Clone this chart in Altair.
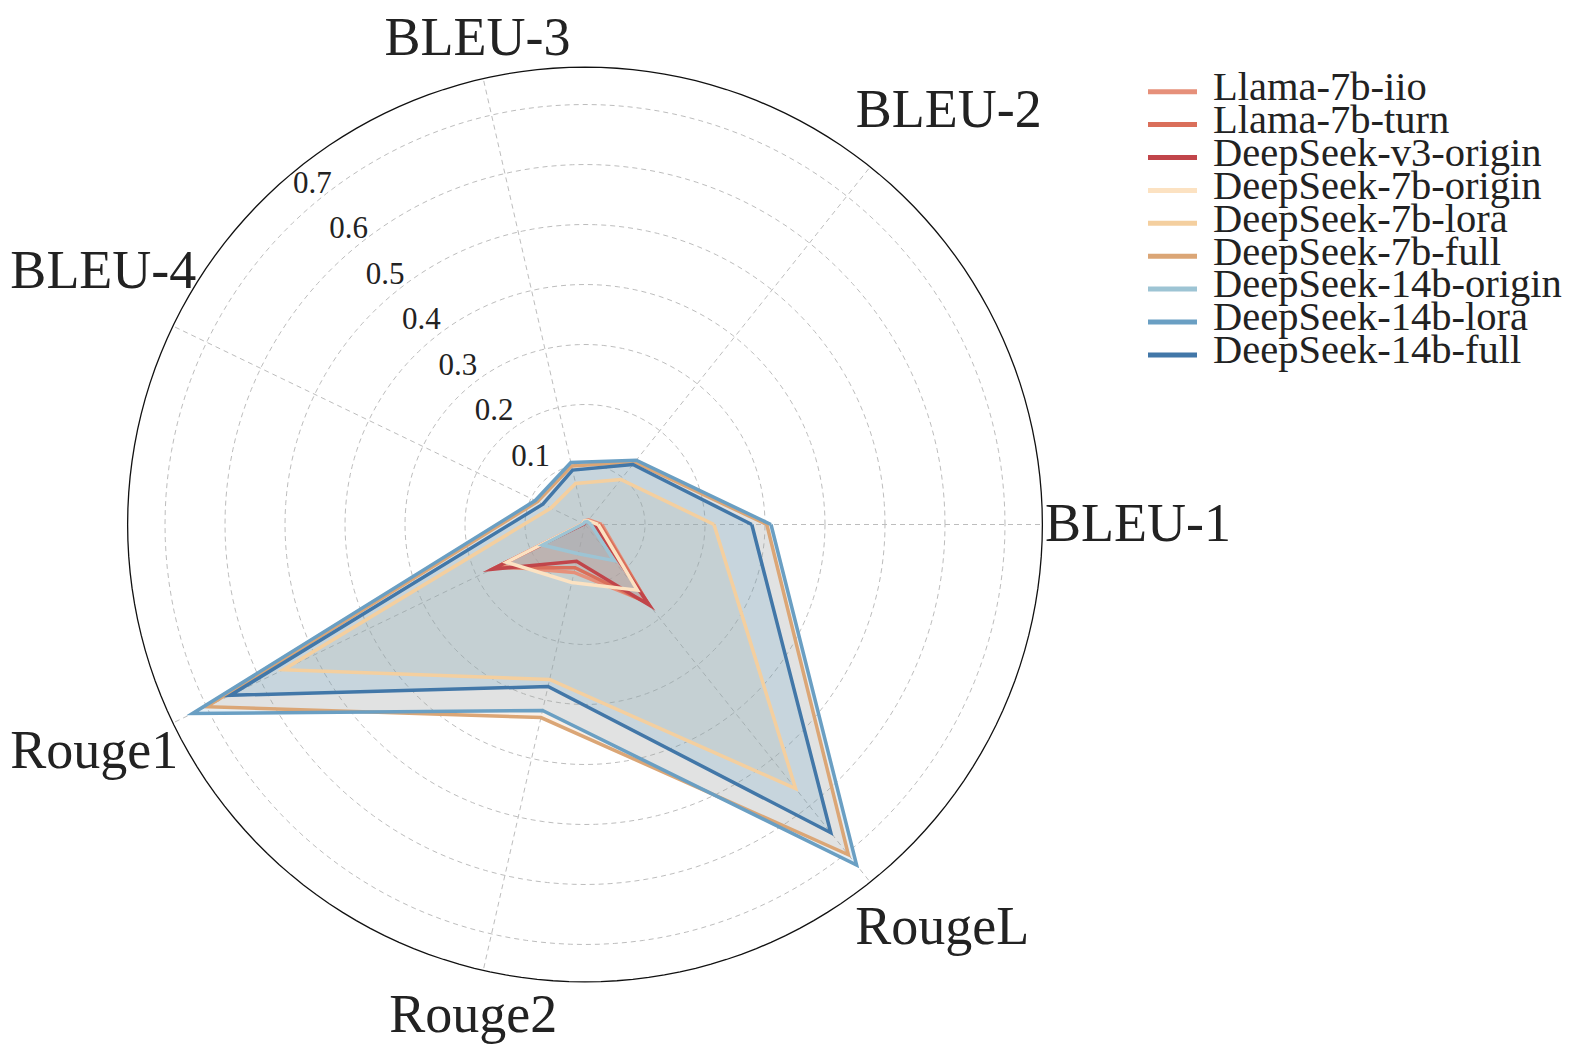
import math
import pandas as pd
import altair as alt

# ---------------- data ----------------
metrics = ["BLEU-1", "BLEU-2", "BLEU-3", "BLEU-4", "Rouge1", "Rouge2", "RougeL"]
series = ["Llama-7b-iio", "Llama-7b-turn", "DeepSeek-v3-origin",
          "DeepSeek-7b-origin", "DeepSeek-7b-lora", "DeepSeek-7b-full",
          "DeepSeek-14b-origin", "DeepSeek-14b-lora", "DeepSeek-14b-full"]
colors = ["#e6907a", "#da6f5a", "#c1454a",
          "#fce2c2", "#f4cf9f", "#dba676",
          "#9dc4d4", "#6a9fc3", "#4277a8"]
fill_colors = ["#e6907a", "#da6f5a", "#c1454a",
               "#fce2c2", "#f4cf9f", "#dba676",
               "#9dc4d4", "#6a9fc3", "#4a94c2"]

llama_7b_iio = [0.028, 0.010, 0.006, 0.004, 0.160, 0.082, 0.165]
llama_7b_turn = [0.025, 0.008, 0.005, 0.003, 0.166, 0.074, 0.168]
deepseek_v3_origin = [0.015, 0.006, 0.004, 0.002, 0.172, 0.063, 0.172]
deepseek_7b_origin = [0.022, 0.008, 0.006, 0.004, 0.145, 0.099, 0.140]
deepseek_7b_lora = [0.215, 0.096, 0.070, 0.063, 0.558, 0.265, 0.563]
deepseek_7b_full = [0.303, 0.133, 0.100, 0.088, 0.700, 0.330, 0.704]
deepseek_14b_origin = [0.010, 0.006, 0.004, 0.003, 0.079, 0.050, 0.077]
deepseek_14b_lora = [0.310, 0.137, 0.106, 0.092, 0.726, 0.318, 0.726]
deepseek_14b_full = [0.278, 0.128, 0.093, 0.078, 0.656, 0.277, 0.657]

values = [llama_7b_iio, llama_7b_turn, deepseek_v3_origin,
          deepseek_7b_origin, deepseek_7b_lora, deepseek_7b_full,
          deepseek_14b_origin, deepseek_14b_lora, deepseek_14b_full]

tick_values = [0.1, 0.2, 0.3, 0.4, 0.5, 0.6, 0.7]
tick_labels = ["0.1", "0.2", "0.3", "0.4", "0.5", "0.6", "0.7"]

# ---------------- layout (not data) ----------------
N = len(metrics)
R = 1.05 * max(max(v) for v in values)       # outer radius (data units)
PX = 600.0                                    # pixels per data unit
W, H = 1559, 1039
CX, CY = 577.0, 516.5
XD = [-CX / PX, (W - CX) / PX]
YD = [-(H - CY) / PX, CY / PX]
FONT = "Liberation Serif"
TXT = "#222222"
GRID = "#bdbdbd"
# placement of the category labels around the rim (distance in px, angle in deg)
label_r_px = [553, 551, 497, 544, 541, 504, 539]
label_ang_deg = [0.0, 48.7, 102.5, 152.3, 204.9, 257.2, 311.5]
TICK_ANG = 128.7 * math.pi / 180
# legend block (plot pixels)
LEG_X0, LEG_X1, LEG_TX = 1140, 1189, 1205
LEG_Y0, LEG_DY, LEG_BASE = 83.7, 32.9, 8.3

xs = alt.Scale(domain=XD, nice=False, zero=False)
ys = alt.Scale(domain=YD, nice=False, zero=False)
X = alt.X("x:Q", scale=xs, axis=None)
Y = alt.Y("y:Q", scale=ys, axis=None)
ANG = f"datum.idx * 2 * PI / {N}"

# polygon table (closed: first vertex repeated at the end)
rows = []
for s, vals in zip(series, values):
    for k in range(N + 1):
        i = k % N
        rows.append({"series": s, "k": k, "idx": i, "value": vals[i]})
poly = pd.DataFrame(rows)

circ = pd.DataFrame([{"level": lvl, "deg": d} for lvl in tick_values for d in range(0, 361, 2)])
outer = pd.DataFrame({"level": [R] * 181, "deg": list(range(0, 361, 2))})

axis_df = pd.DataFrame({"metric": metrics, "idx": list(range(N)),
                        "lr": label_r_px, "la": label_ang_deg})
tick_df = pd.DataFrame({"v": tick_values, "label": tick_labels})
legend_df = pd.DataFrame({"series": series, "i": list(range(len(series)))})

circ_calc = dict(x="datum.level * cos(datum.deg * PI / 180)",
                 y="datum.level * sin(datum.deg * PI / 180)")

grid_circles = alt.Chart(circ).transform_calculate(**circ_calc).mark_line(
    color=GRID, strokeWidth=1, strokeDash=[5, 4]
).encode(x=X, y=Y, detail="level:N", order="deg:Q")

outer_circle = alt.Chart(outer).transform_calculate(**circ_calc).mark_line(
    color="#111111", strokeWidth=1.3
).encode(x=X, y=Y, order="deg:Q")

spokes = alt.Chart(axis_df).transform_calculate(
    a=ANG, x="0", y="0",
    x1=f"{R} * cos(datum.a)", y1=f"{R} * sin(datum.a)"
).mark_rule(color=GRID, strokeWidth=1, strokeDash=[5, 4]).encode(
    x=X, y=Y, x2="x1:Q", y2="y1:Q"
)

poly_calc = dict(x=f"datum.value * cos({ANG})", y=f"datum.value * sin({ANG})")

fill_scale = alt.Scale(domain=series, range=fill_colors)
stroke_scale = alt.Scale(domain=series, range=colors)

fill_layers, line_layers = [], []
for s in series:
    base = alt.Chart(poly).transform_filter(alt.datum.series == s).transform_calculate(**poly_calc)
    fill_layers.append(
        base.mark_line(strokeWidth=0, fillOpacity=0.17).encode(
            x=X, y=Y, order="k:Q",
            fill=alt.Fill("series:N", scale=fill_scale, legend=None))
    )
    line_layers.append(
        base.mark_line(strokeWidth=3.5, strokeJoin="miter", strokeMiterLimit=20).encode(
            x=X, y=Y, order="k:Q",
            stroke=alt.Stroke("series:N", scale=stroke_scale, legend=None))
    )

tick_text = alt.Chart(tick_df).transform_calculate(
    r="0.97 * datum.v + 0.048",
    x=f"datum.r * cos({TICK_ANG})", y=f"datum.r * sin({TICK_ANG})"
).mark_text(font=FONT, fontSize=31, color=TXT, align="center", baseline="middle").encode(
    x=X, y=Y, text="label:N"
)

axis_text = alt.Chart(axis_df).transform_calculate(
    a="datum.la * PI / 180",
    x=f"datum.lr / {PX} * cos(datum.a)", y=f"datum.lr / {PX} * sin(datum.a)"
).mark_text(font=FONT, fontSize=54, color=TXT, align="center", baseline="middle").encode(
    x=X, y=Y, text="metric:N"
)

# legend drawn with the same scales: a short coloured stroke plus its label per series
leg_calc = dict(
    y=f"({CY} - ({LEG_Y0} + datum.i * {LEG_DY})) / {PX}",
    yt=f"({CY} - ({LEG_Y0} + datum.i * {LEG_DY} + {LEG_BASE})) / {PX}",
    x=f"({LEG_X0} - {CX}) / {PX}",
    x1=f"({LEG_X1} - {CX}) / {PX}",
    xt=f"({LEG_TX} - {CX}) / {PX}",
)
leg_base = alt.Chart(legend_df).transform_calculate(**leg_calc)
leg_lines = leg_base.mark_rule(strokeWidth=5).encode(
    x=X, x2="x1:Q", y=Y,
    stroke=alt.Stroke("series:N", scale=stroke_scale, legend=None),
)
leg_labels = leg_base.mark_text(
    font=FONT, fontSize=40.5, color=TXT, align="left", baseline="alphabetic"
).encode(
    x=alt.X("xt:Q", scale=xs, axis=None), y=alt.Y("yt:Q", scale=ys, axis=None),
    text="series:N",
)

chart = alt.layer(
    grid_circles, spokes, outer_circle, *fill_layers, *line_layers,
    tick_text, axis_text, leg_lines, leg_labels
).properties(
    width=W, height=H, autosize=alt.AutoSizeParams(type="none"), padding=0,
    background="white",
).configure_view(stroke=None)

chart.save("out.html", embed_options={"renderer": "svg", "actions": False})
